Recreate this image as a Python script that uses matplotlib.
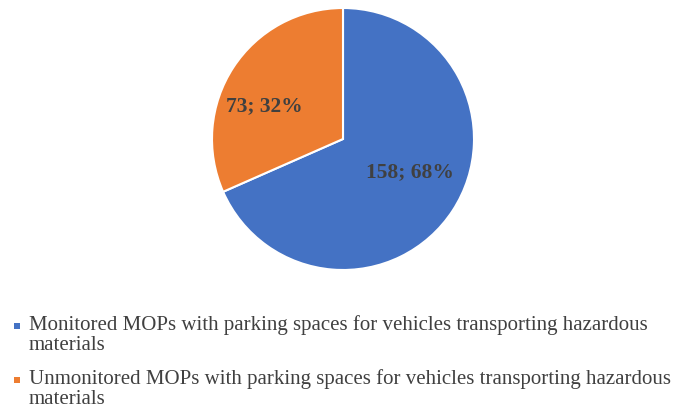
import matplotlib
matplotlib.use("Agg")
import matplotlib.pyplot as plt
from matplotlib.patches import Rectangle

legend_lines = [
    ["Monitored MOPs with parking spaces for vehicles transporting hazardous", "materials"],
    ["Unmonitored MOPs with parking spaces for vehicles transporting hazardous", "materials"],
]
values = [158, 73]
percent_labels = ["68%", "32%"]
colors = ["#4472C4", "#ED7D31"]

plt.rcParams["font.family"] = ["Liberation Serif", "DejaVu Serif"]

W, H = 682, 412
fig = plt.figure(figsize=(W / 100, H / 100), dpi=100)
fig.patch.set_facecolor("white")

cx, cy, r = 343, 139, 131
ax = fig.add_axes([(cx - r) / W, 1 - (cy + r) / H, 2 * r / W, 2 * r / H])
wedges, _ = ax.pie(values, colors=colors, startangle=90, counterclock=False,
                   wedgeprops=dict(edgecolor="white", linewidth=1.5), radius=1)
ax.set_xlim(-1, 1)
ax.set_ylim(-1, 1)
ax.set_aspect("equal")
ax.axis("off")

label_pos = [(0.51, -0.25), (-0.6, 0.25)]
for v, p, (x, y) in zip(values, percent_labels, label_pos):
    ax.text(x, y, f"{v}; {p}", ha="center", va="center", fontsize=15.5,
            color="#404040", fontweight="bold")

# legend (manual, first line aligned with marker)
text_x = 29
baselines = [330, 384]
line_gap = 20
marker_size = 6
for lines, c, yb in zip(legend_lines, colors, baselines):
    for i, s in enumerate(lines):
        fig.text(text_x / W, 1 - (yb + i * line_gap) / H, s, ha="left",
                 va="baseline", fontsize=15, color="#404040")
    fig.add_artist(Rectangle((14 / W, 1 - (yb - 1) / H), marker_size / W,
                             marker_size / H, transform=fig.transFigure,
                             facecolor=c, edgecolor="none"))

fig.savefig("out.png", dpi=100, facecolor="white")
